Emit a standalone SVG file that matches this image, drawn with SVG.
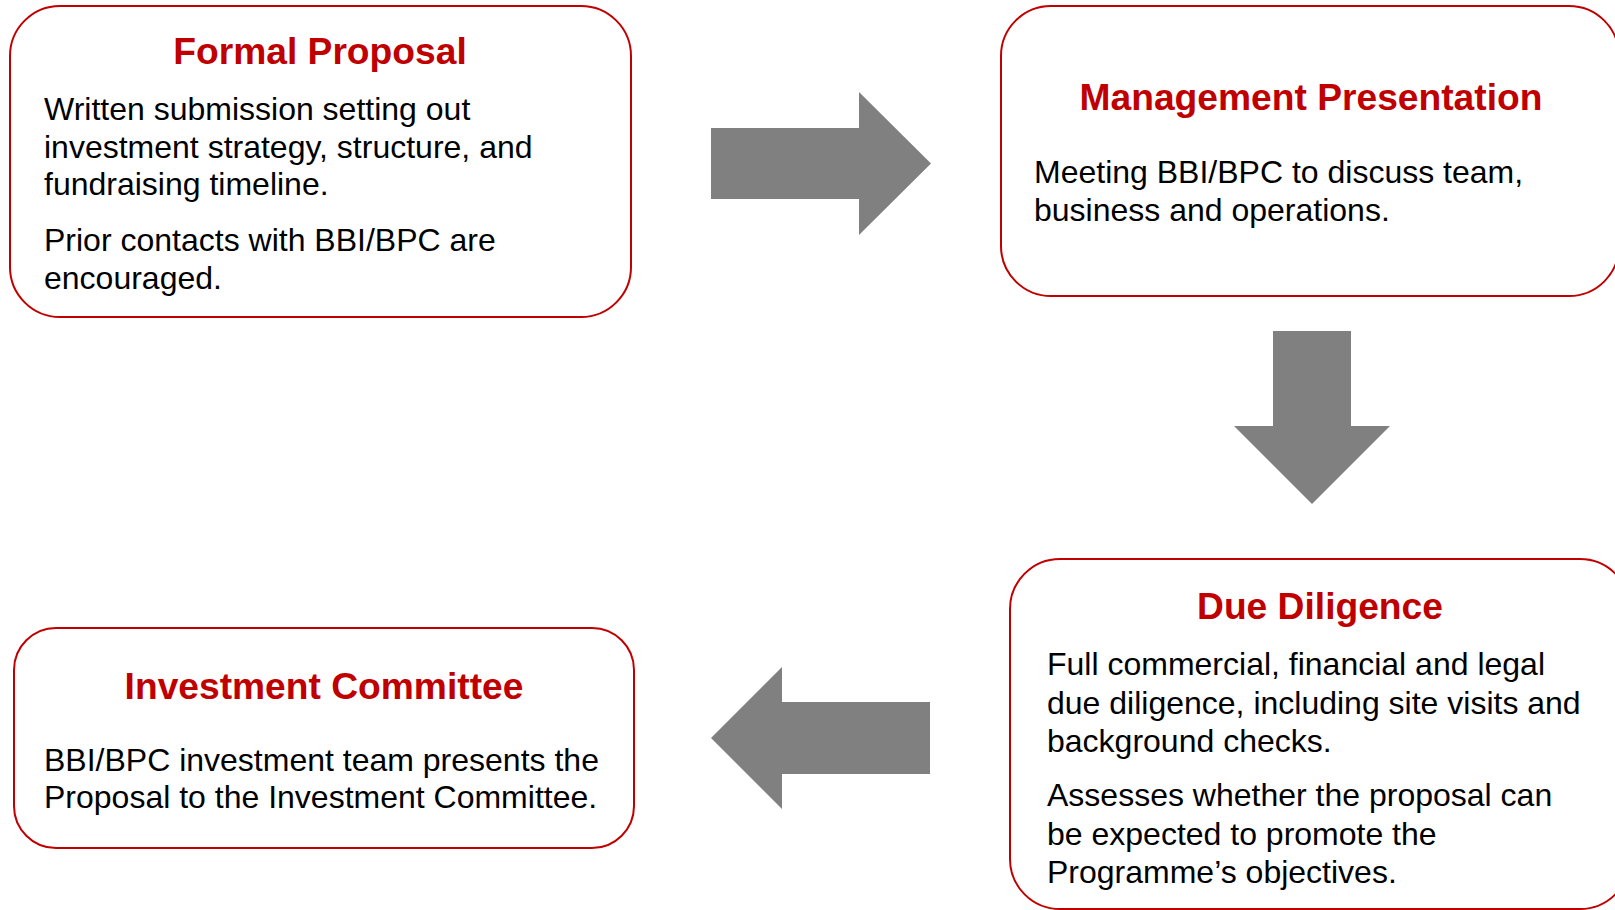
<svg xmlns="http://www.w3.org/2000/svg" width="1615" height="910" viewBox="0 0 1615 910">
  <style>
    .box { fill: #ffffff; stroke: #C00000; stroke-width: 2; }
    .title { font-family: "Liberation Sans", Arial, sans-serif; font-weight: bold; font-size: 37.2px; fill: #C00000; text-anchor: middle; }
    .body { font-family: "Liberation Sans", Arial, sans-serif; font-size: 32px; fill: #000000; }
    .arrow { fill: #808080; }
  </style>
  <rect width="1615" height="910" fill="#ffffff"/>

  <!-- Step 1 -->
  <g id="formal-proposal">
    <rect class="box" x="10" y="6" width="621" height="311" rx="50" ry="50"/>
    <text class="title" x="320" y="64">Formal Proposal</text>
    <text class="body" x="44" y="120">Written submission setting out</text>
    <text class="body" x="44" y="157.5">investment strategy, structure, and</text>
    <text class="body" x="44" y="195">fundraising timeline.</text>
    <text class="body" x="44" y="251">Prior contacts with BBI/BPC are</text>
    <text class="body" x="44" y="288.5">encouraged.</text>
  </g>

  <!-- Step 2 -->
  <g id="management-presentation">
    <rect class="box" x="1001" y="6" width="618" height="290" rx="50" ry="50"/>
    <text class="title" x="1311" y="110">Management Presentation</text>
    <text class="body" x="1034" y="182.5">Meeting BBI/BPC to discuss team,</text>
    <text class="body" x="1034" y="221">business and operations.</text>
  </g>

  <!-- Step 3 -->
  <g id="due-diligence">
    <rect class="box" x="1010" y="559" width="620" height="350" rx="50" ry="50"/>
    <text class="title" x="1320" y="619">Due Diligence</text>
    <text class="body" x="1047" y="675">Full commercial, financial and legal</text>
    <text class="body" x="1047" y="713.5">due diligence, including site visits and</text>
    <text class="body" x="1047" y="752">background checks.</text>
    <text class="body" x="1047" y="806">Assesses whether the proposal can</text>
    <text class="body" x="1047" y="844.5">be expected to promote the</text>
    <text class="body" x="1047" y="883">Programme’s objectives.</text>
  </g>

  <!-- Step 4 -->
  <g id="investment-committee">
    <rect class="box" x="14" y="628" width="620" height="220" rx="42" ry="42"/>
    <text class="title" x="324" y="699">Investment Committee</text>
    <text class="body" x="44" y="770.5">BBI/BPC investment team presents the</text>
    <text class="body" x="44" y="808">Proposal to the Investment Committee.</text>
  </g>

  <!-- Block arrows between steps -->
  <g id="connectors">
    <polygon class="arrow" points="711,128 859,128 859,92 931,163.5 859,235 859,199 711,199"/>
    <polygon class="arrow" points="1273,331 1351,331 1351,426 1390,426 1312,504 1234,426 1273,426"/>
    <polygon class="arrow" points="930,702 782,702 782,667 711,738 782,809 782,774 930,774"/>
  </g>
</svg>
